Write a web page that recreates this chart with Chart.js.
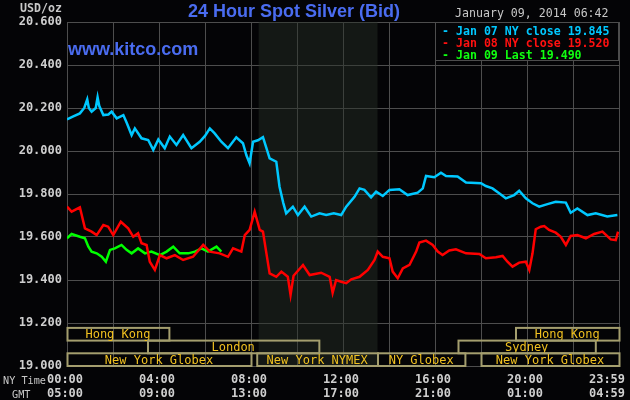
<!DOCTYPE html>
<html lang="en">
<head>
  <meta charset="UTF-8" />
  <title>24 Hour Spot Silver (Bid)</title>
  <style>
    body { margin: 0; background: #000; }
    #wrap { position: relative; width: 630px; height: 400px; background: #040406; overflow: hidden; }
    #wrap canvas { position: absolute; left: 0; top: 0; }
    .txt { position: absolute; white-space: nowrap; font-family: 'DejaVu Sans Mono', monospace; font-size: 11.6px; line-height: 13px; }
    #title { position: absolute; left: 0; width: 588px; text-align: center; top: 1px; font: bold 18px 'Liberation Sans', Arial, sans-serif; color: #4a6cf0; }
    #url { position: absolute; left: 68px; top: 39px; font: bold 18px 'Liberation Sans', Arial, sans-serif; color: #4a6cf0; }
    #date { left: 455px; top: 7px; color: #c8c8c8; }
    #legend { position: absolute; left: 435px; top: 22px; width: 184px; height: 39px; background: #040406; border: 1px solid #4d4d4d; box-sizing: border-box; }
    #legend div { position: absolute; left: 6px; white-space: nowrap; font-family: 'DejaVu Sans Mono', monospace; font-size: 11.6px; font-weight: bold; }
    #unit { left: 20px; top: 2px; color: #c8c8c8; font-weight: bold; }
    #nyt { left: 3px; top: 374px; color: #c8c8c8; font-size: 10.2px; }
    #gmt { left: 12px; top: 388px; color: #c8c8c8; font-size: 10.2px; }
  </style>
</head>
<body>
  <div id="wrap">
    <canvas id="chart" width="630" height="400"></canvas>
    <div id="title">24 Hour Spot Silver (Bid)</div>
    <div id="url">www.kitco.com</div>
    <div class="txt" id="date">January 09, 2014 06:42</div>
    <div id="legend">
      <div style="top:1px;color:#00c8ff">- Jan 07 NY close 19.845</div>
      <div style="top:13px;color:#ff1010">- Jan 08 NY close 19.520</div>
      <div style="top:25px;color:#10ff10">- Jan 09 Last 19.490</div>
    </div>
    <div class="txt" id="unit">USD/oz</div>
    <div class="txt" id="nyt">NY Time</div>
    <div class="txt" id="gmt">GMT</div>
  </div>

  <script src="https://cdn.jsdelivr.net/npm/chart.js"></script>
  <script>
    // hours after midnight NY time, price in USD/oz
    const jan07Hours = [0, 0.25, 0.56, 0.75, 0.88, 0.95, 1.07, 1.25, 1.33, 1.4, 1.58, 1.8, 1.94, 2.16, 2.45, 2.6, 2.81, 2.95,
      3.24, 3.53, 3.75, 3.97, 4.25, 4.47, 4.76, 5.05, 5.41, 5.77, 6.0, 6.21, 6.42, 6.71, 7.0, 7.36, 7.65, 7.8, 7.94,
      8.09, 8.3, 8.52, 8.65, 8.81, 9.1, 9.24, 9.4, 9.53, 9.82, 10.04, 10.33, 10.62, 10.98, 11.27, 11.6, 11.92, 12.14,
      12.5, 12.72, 12.93, 13.22, 13.44, 13.73, 14.02, 14.45, 14.81, 15.25, 15.47, 15.61, 15.97, 16.26, 16.48, 16.98,
      17.35, 18.0, 18.21, 18.5, 18.79, 19.08, 19.44, 19.66, 19.95, 20.24, 20.53, 20.89, 21.25, 21.69, 21.9, 22.19,
      22.63, 22.99, 23.49, 23.93];
    const jan07Price = [20.147, 20.16, 20.175, 20.2, 20.24, 20.2, 20.183, 20.2, 20.25, 20.21, 20.167, 20.17, 20.183, 20.152,
      20.167, 20.13, 20.074, 20.105, 20.059, 20.051, 20.005, 20.054, 20.013, 20.067, 20.028, 20.074, 20.013, 20.043,
      20.07, 20.105, 20.082, 20.043, 20.013, 20.064, 20.036, 19.98, 19.943, 20.043, 20.05, 20.064, 20.02, 19.966, 19.95,
      19.834, 19.76, 19.71, 19.741, 19.702, 19.741, 19.695, 19.71, 19.702, 19.71, 19.702, 19.741, 19.787, 19.826, 19.819,
      19.784, 19.811, 19.791, 19.819, 19.822, 19.795, 19.806, 19.826, 19.884, 19.878, 19.899, 19.884, 19.881, 19.853,
      19.85, 19.837, 19.826, 19.803, 19.78, 19.795, 19.815, 19.78, 19.757, 19.741, 19.753, 19.764, 19.76, 19.713, 19.733,
      19.702, 19.71, 19.695, 19.702];

    const jan08Hours = [0, 0.2, 0.56, 0.78, 1.07, 1.29, 1.58, 1.79, 2.01, 2.34, 2.66, 2.88, 3.09, 3.24, 3.46, 3.6, 3.82,
      4.04, 4.33, 4.69, 5.05, 5.48, 5.92, 6.21, 6.64, 7.0, 7.22, 7.58, 7.73, 7.94, 8.16, 8.38, 8.52, 8.67, 8.81, 9.1,
      9.32, 9.6, 9.72, 9.85, 10.26, 10.55, 11.05, 11.42, 11.55, 11.7, 11.92, 12.14, 12.36, 12.72, 13.08, 13.37, 13.51,
      13.73, 14.02, 14.16, 14.38, 14.6, 14.89, 15.18, 15.32, 15.61, 15.9, 16.12, 16.33, 16.62, 16.91, 17.35, 17.93,
      18.21, 18.65, 18.94, 19.15, 19.37, 19.66, 19.95, 20.1, 20.24, 20.38, 20.6, 20.75, 20.96, 21.25, 21.47, 21.69,
      21.9, 22.19, 22.56, 22.92, 23.28, 23.64, 23.86, 23.96];
    const jan08Price = [19.741, 19.718, 19.738, 19.64, 19.625, 19.609, 19.656, 19.648, 19.609, 19.671, 19.64, 19.601,
      19.617, 19.571, 19.563, 19.485, 19.447, 19.516, 19.501, 19.516, 19.493, 19.508, 19.563, 19.532, 19.524, 19.508,
      19.547, 19.532, 19.609, 19.633, 19.718, 19.633, 19.625, 19.524, 19.431, 19.415, 19.439, 19.415, 19.33, 19.42,
      19.47, 19.423, 19.434, 19.415, 19.34, 19.4, 19.392, 19.385, 19.403, 19.415, 19.447, 19.493, 19.532, 19.508,
      19.501, 19.439, 19.408, 19.454, 19.47, 19.532, 19.574, 19.583, 19.563, 19.532, 19.516, 19.537, 19.543, 19.524,
      19.521, 19.501, 19.506, 19.512, 19.485, 19.462, 19.481, 19.485, 19.447, 19.524, 19.636, 19.648, 19.651, 19.633,
      19.62, 19.601, 19.563, 19.605, 19.609, 19.594, 19.614, 19.625, 19.589, 19.586, 19.625];

    const jan09Hours = [0, 0.2, 0.56, 0.78, 0.93, 1.07, 1.29, 1.51, 1.69, 1.87, 2.08, 2.37, 2.59, 2.81, 3.09, 3.39, 3.67,
      4.04, 4.33, 4.62, 4.9, 5.27, 5.56, 5.85, 6.13, 6.5, 6.71];
    const jan09Price = [19.594, 19.614, 19.601, 19.594, 19.555, 19.532, 19.524, 19.508, 19.485, 19.54, 19.547, 19.563,
      19.54, 19.524, 19.547, 19.524, 19.532, 19.516, 19.532, 19.555, 19.524, 19.524, 19.532, 19.547, 19.532, 19.555,
      19.532];

    const yTicks = [19.0, 19.2, 19.4, 19.6, 19.8, 20.0, 20.2, 20.4, 20.6];
    const xTickHours = [0, 4, 8, 12, 16, 20, 23.983];
    const nyTimeLabels = ['00:00', '04:00', '08:00', '12:00', '16:00', '20:00', '23:59'];
    const gmtLabels = ['05:00', '09:00', '13:00', '17:00', '21:00', '01:00', '04:59'];

    // NYMEX pit hours (shaded)
    const nymexOpen = 8.333;
    const nymexClose = 13.5;

    // trading sessions: row 0 top, row 2 bottom
    const sessionNames = ['Hong Kong', 'Hong Kong', 'London', 'Sydney', 'New York Globex', 'New York NYMEX', 'NY Globex', 'New York Globex'];
    const sessionStart = [0, 19.5, 3.5, 17, 0, 8.25, 13.5, 18];
    const sessionEnd = [4.43, 24, 10.95, 22.97, 8, 13.5, 17.3, 24];
    const sessionRow = [0, 0, 1, 1, 2, 2, 2, 2];

    const toPoints = (hs, ps) => hs.map((h, i) => ({ x: h, y: ps[i] }));

    const monoFont = "'DejaVu Sans Mono', monospace";

    const decor = {
      id: 'decor',
      beforeDatasetsDraw(chart) {
        const { ctx, chartArea } = chart;
        const x = chart.scales.x;
        ctx.save();
        ctx.fillStyle = 'rgba(40, 48, 40, 0.45)';
        const x0 = x.getPixelForValue(nymexOpen), x1 = x.getPixelForValue(nymexClose);
        ctx.fillRect(x0, chartArea.top, x1 - x0, chartArea.bottom - chartArea.top);
        ctx.restore();
      },
      afterDraw(chart) {
        const { ctx, chartArea } = chart;
        const x = chart.scales.x;
        ctx.save();
        // session boxes
        const rowH = 12.7;
        const top = chartArea.bottom - rowH * 3;
        ctx.lineWidth = 2;
        ctx.strokeStyle = '#a49e6e';
        ctx.font = '12px ' + monoFont;
        ctx.textAlign = 'center';
        ctx.textBaseline = 'middle';
        sessionNames.forEach((name, i) => {
          const a = x.getPixelForValue(sessionStart[i]);
          const b = x.getPixelForValue(sessionEnd[i]);
          const y = top + sessionRow[i] * rowH;
          ctx.strokeRect(a + 0.5, y, b - a, rowH);
          ctx.fillStyle = '#f0c020';
          ctx.fillText(name, (a + b) / 2, y + rowH / 2 + 1);
        });
        // time axis labels
        ctx.fillStyle = '#cfcfcf';
        ctx.font = 'bold 12px ' + monoFont;
        xTickHours.forEach((h, i) => {
          let px = x.getPixelForValue(h) - 2;
          if (i === xTickHours.length - 1) px = 607;
          ctx.fillText(nyTimeLabels[i], px, chartArea.bottom + 14);
          ctx.fillText(gmtLabels[i], px, chartArea.bottom + 28);
        });
        ctx.restore();
      }
    };

    const lineStyle = { pointRadius: 0, borderWidth: 2.5, tension: 0, fill: false };

    new Chart(document.getElementById('chart'), {
      type: 'line',
      data: {
        datasets: [
          { ...lineStyle, label: 'Jan 07', data: toPoints(jan07Hours, jan07Price), borderColor: '#00c8ff' },
          { ...lineStyle, label: 'Jan 08', data: toPoints(jan08Hours, jan08Price), borderColor: '#ff0000' },
          { ...lineStyle, label: 'Jan 09', data: toPoints(jan09Hours, jan09Price), borderColor: '#00ff00' }
        ]
      },
      options: {
        responsive: false,
        animation: false,
        layout: { padding: { top: 22, right: 11, left: 0, bottom: 0 } },
        plugins: { legend: { display: false }, tooltip: { enabled: false } },
        scales: {
          x: {
            type: 'linear',
            min: 0,
            max: 24,
            ticks: { stepSize: 2, display: false },
            grid: { color: '#4d4d4d', drawTicks: false },
            border: { color: '#4d4d4d' },
            afterFit: s => { s.height = 34; }
          },
          y: {
            min: 19,
            max: 20.6,
            afterBuildTicks: s => { s.ticks = yTicks.map(v => ({ value: v })); },
            ticks: {
              color: '#cfcfcf',
              padding: 5,
              font: { family: monoFont, size: 12, weight: 'bold' },
              callback: v => v.toFixed(3)
            },
            grid: { color: '#4d4d4d', drawTicks: false },
            border: { color: '#4d4d4d' },
            afterFit: s => { s.width = 67; }
          }
        }
      },
      plugins: [decor]
    });
  </script>
</body>
</html>
